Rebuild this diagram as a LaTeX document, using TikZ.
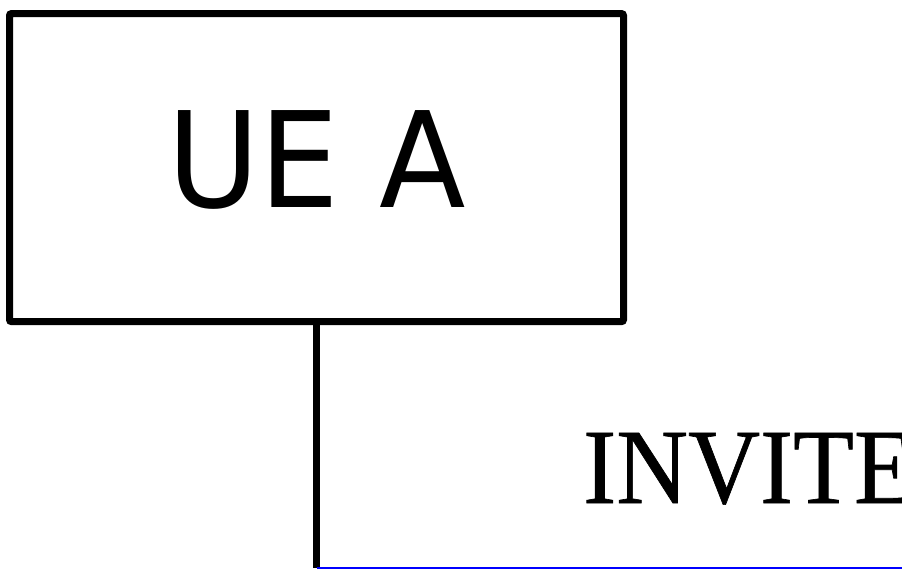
\documentclass[tikz,border=0pt]{standalone}
\usepackage{fontspec}
\setmainfont[FakeStretch=0.93,FakeBold=0.6]{Liberation Serif}
\newfontfamily\uefont[FakeStretch=0.95]{DejaVu Sans}
\usetikzlibrary{positioning}

\begin{document}
\begin{tikzpicture}[x=1pt,y=-1pt,
  every node/.style={inner sep=0pt},
  entity/.style={draw,line width=7pt,rounded corners=2pt,minimum width=614pt,minimum height=308pt,
    font=\uefont\fontsize{133}{133}\selectfont,text depth=18pt},
  lifeline/.style={line width=6.5pt},
  msg/.style={draw=blue,line width=2.6pt},
  msglabel/.style={font=\fontsize{107}{107}\selectfont,anchor=base west} ]
  \clip (0,0) rectangle (902,570);
  \node[entity] (ueA) at (316.5,167.6) {UE A};
  \coordinate (llA) at (316.5,568);
  \coordinate (msgEnd) at (1200,568);
  \draw[lifeline] (ueA.south) -- (llA);
  \draw[msg] (llA) -- (msgEnd);
  \node[msglabel] (invite) at (583,503) {INVITE};
\end{tikzpicture}
\end{document}
